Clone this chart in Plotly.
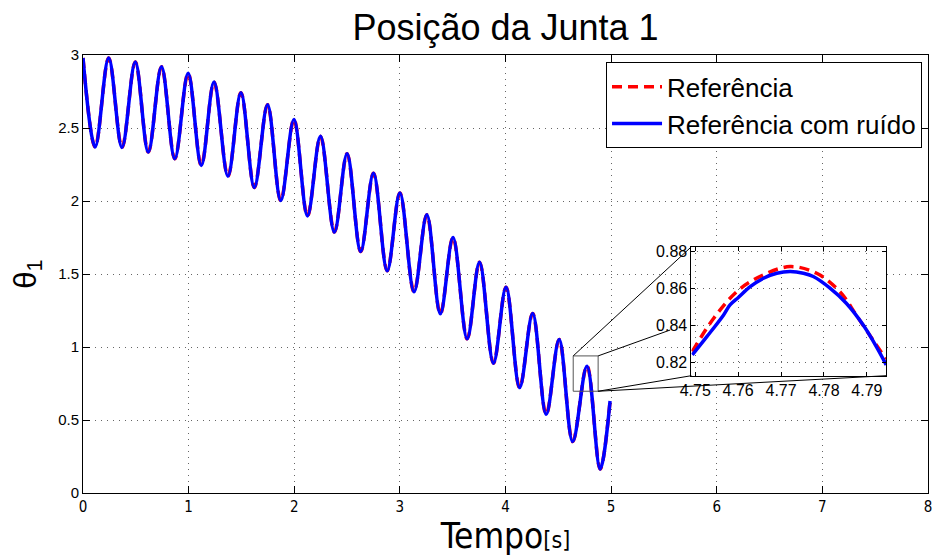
import plotly.graph_objects as go

# Joint 1 position: successive peaks / troughs of the oscillation (time in s, angle in rad)
tempo = [0.0, 0.115, 0.243, 0.369, 0.495, 0.618, 0.743, 0.869, 0.995, 1.12,
         1.24, 1.372, 1.495, 1.622, 1.747, 1.872, 1.997, 2.125, 2.248, 2.38,
         2.50, 2.629, 2.75, 2.88, 3.0, 3.134, 3.255, 3.383, 3.503, 3.637,
         3.754, 3.886, 4.005, 4.134, 4.257, 4.385, 4.508, 4.636, 4.771, 4.896,
         4.99]
theta_ref = [2.98, 2.37, 2.98, 2.367, 2.952, 2.335, 2.92, 2.29, 2.875, 2.244,
             2.815, 2.17, 2.742, 2.093, 2.66, 2.003, 2.559, 1.898, 2.443, 1.787,
             2.324, 1.654, 2.19, 1.522, 2.054, 1.378, 1.906, 1.227, 1.75, 1.056,
             1.581, 0.889, 1.41, 0.722, 1.23, 0.539, 1.051, 0.352, 0.872, 0.165,
             0.63]
theta_ruido = [2.98, 2.37, 2.98, 2.367, 2.952, 2.335, 2.92, 2.29, 2.875, 2.244,
               2.815, 2.17, 2.742, 2.093, 2.66, 2.003, 2.559, 1.898, 2.443, 1.787,
               2.324, 1.654, 2.19, 1.522, 2.054, 1.378, 1.906, 1.227, 1.75, 1.056,
               1.581, 0.889, 1.41, 0.722, 1.23, 0.539, 1.051, 0.352, 0.869, 0.165,
               0.63]

# Detail around the peak near t = 4.77 s
tempo_zoom_ref = [4.7493, 4.7543, 4.7601, 4.7659, 4.7721, 4.7783, 4.7837,
                  4.7875, 4.7914, 4.7945]
theta_zoom_ref = [0.8258, 0.8439, 0.8592, 0.8674, 0.8719, 0.8683, 0.8583,
                  0.8457, 0.8321, 0.8217]
tempo_zoom_ruido = [4.7493, 4.7527, 4.7566, 4.7581, 4.7601, 4.7628, 4.7659,
                    4.7690, 4.7721, 4.7752, 4.7775, 4.7814, 4.7852, 4.7891,
                    4.7922, 4.7945]
theta_zoom_ruido = [0.8240, 0.8339, 0.8457, 0.8511, 0.8553, 0.8610, 0.8656,
                    0.8683, 0.8692, 0.8683, 0.8665, 0.8602, 0.8520, 0.8403,
                    0.8285, 0.8186]

x_ticks_zoom = [4.75, 4.76, 4.77, 4.78, 4.79]
y_ticks_zoom = [0.82, 0.84, 0.86, 0.88]

W, H = 939, 556
L, R, T, B = 83, 7, 55, 63
PW, PH = W - L - R, H - T - B

def paper(px, py):
    return (px - L) / PW, (H - B - py) / PH

FONT = "Liberation Sans, Arial, sans-serif"
NARROW = "Liberation Sans Narrow, Arial Narrow, DejaVu Sans Condensed, sans-serif"
RED_DASH = "10px,6px"

fig = go.Figure()
fig.add_trace(go.Scatter(
    x=tempo, y=theta_ref, mode="lines", name="Referência",
    line=dict(color="#ff0000", width=3.5, dash=RED_DASH, shape="spline", smoothing=1),
    xaxis="x", yaxis="y"))
fig.add_trace(go.Scatter(
    x=tempo, y=theta_ruido, mode="lines", name="Referência com ruído",
    line=dict(color="#0000ff", width=3.5, shape="spline", smoothing=1),
    xaxis="x", yaxis="y"))
fig.add_trace(go.Scatter(
    x=tempo_zoom_ref, y=theta_zoom_ref, mode="lines", showlegend=False,
    line=dict(color="#ff0000", width=3.5, dash=RED_DASH, shape="spline", smoothing=1),
    xaxis="x2", yaxis="y2"))
fig.add_trace(go.Scatter(
    x=tempo_zoom_ruido, y=theta_zoom_ruido, mode="lines", showlegend=False,
    line=dict(color="#0000ff", width=3.5, shape="spline", smoothing=1),
    xaxis="x2", yaxis="y2"))

axis_style = dict(showline=True, linecolor="black", linewidth=1, mirror="ticks",
                  ticks="inside", tickcolor="black", tickwidth=1,
                  showgrid=True, gridcolor="#666666", griddash="1px,5px",
                  gridwidth=1, zeroline=False)

ix0, iy1 = paper(694.3, 246.7)
ix1, iy0 = paper(890, 375.7)

fig.update_layout(
    width=W, height=H,
    margin=dict(l=L, r=R, t=T, b=B),
    paper_bgcolor="white", plot_bgcolor="white",
    font=dict(family=FONT, color="black"),
    title=dict(text="Posição da Junta 1", font=dict(size=36, family=FONT),
               x=0.5, xref="paper", xanchor="center",
               y=1 - 27 / H, yref="container", yanchor="middle"),
    xaxis=dict(range=[0, 8], dtick=1, tick0=0, ticklen=7,
               tickfont=dict(size=15, family=NARROW),
               title=dict(text="Tempo<span style='font-size:23px'>[s]</span>",
                          font=dict(size=35, family=NARROW), standoff=6),
               **axis_style),
    yaxis=dict(range=[0, 3], dtick=0.5, tick0=0, ticklen=7,
               tickfont=dict(size=15),
               title=dict(text="θ<sub>1</sub>", font=dict(size=31), standoff=12),
               **axis_style),
    xaxis2=dict(domain=[ix0, ix1], anchor="y2", range=[4.7491, 4.7945],
                tickvals=x_ticks_zoom, ticktext=[f"{v:.2f}" for v in x_ticks_zoom],
                tickfont=dict(size=16), ticklen=4, **axis_style),
    yaxis2=dict(domain=[iy0, iy1], anchor="x2", range=[0.8127, 0.8827],
                tickvals=y_ticks_zoom, ticktext=[f"{v:.2f}" for v in y_ticks_zoom],
                tickfont=dict(size=16), ticklen=4, **axis_style),
    legend=dict(x=paper(926, 0)[0], xanchor="right", y=paper(0, 62.3)[1], yanchor="top",
                bgcolor="white", bordercolor="black", borderwidth=1,
                font=dict(size=26, family=FONT), itemwidth=50, tracegroupgap=0),
    showlegend=True,
)

# zoom box on the main axes and its connectors to the detail axes
box = dict(x0=4.641, x1=4.877, y0=0.697, y1=0.939)
fig.add_shape(type="rect", xref="x", yref="y", **box,
              line=dict(color="#555555", width=1), fillcolor="rgba(0,0,0,0)")
bx0, by1 = box["x0"] / 8, box["y1"] / 3
bx1, by0 = box["x1"] / 8, box["y0"] / 3
end2 = paper(673, 330)
for (xa, ya, xb, yb) in [(bx0, by1, ix0, iy1), (bx1, by1, end2[0], end2[1]),
                         (bx1, by0, ix0, iy0), (bx1, by0, ix1, iy0)]:
    fig.add_shape(type="line", xref="paper", yref="paper", x0=xa, y0=ya, x1=xb, y1=yb,
                  line=dict(color="black", width=1))

fig.write_html("out.html")
